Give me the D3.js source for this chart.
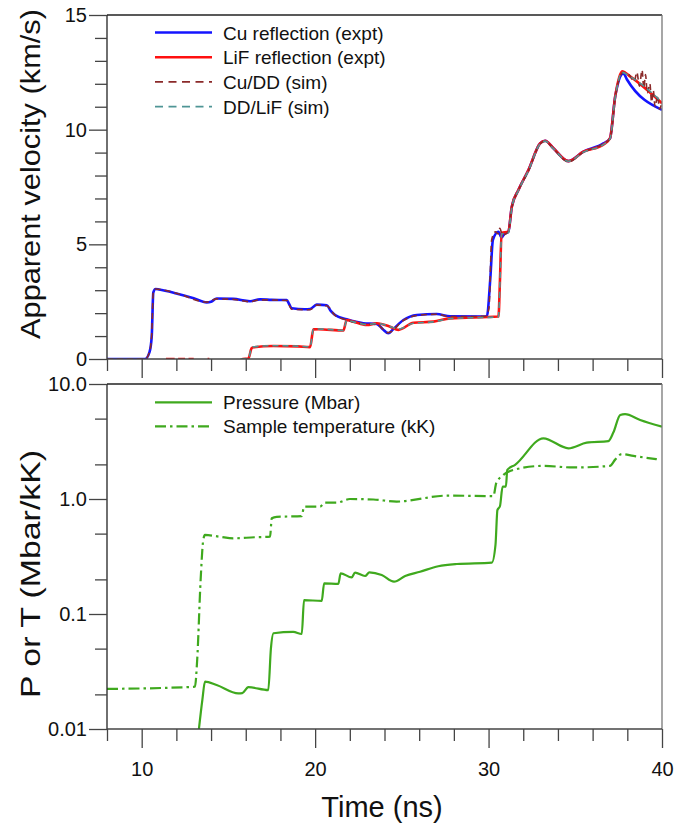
<!DOCTYPE html>
<html>
<head>
<meta charset="utf-8">
<script src="https://cdn.jsdelivr.net/npm/d3@7"></script>
<style>
  body { margin: 0; background: #fff; }
  svg { font-family: "Liberation Sans", Arial, sans-serif; }
  .line { fill: none; }
</style>
</head>
<body>
<div id="chart"></div>
<script>
// velocity traces (top panel), time in ns, velocity in km/s
var cuTime = [8, 10.2, 10.45, 10.58, 10.67, 10.8, 11.0, 12.0, 13.0, 13.75, 14.0, 14.33, 15.28, 16.25, 16.82, 17.5, 18.36, 18.5, 18.65, 19.4, 19.71, 20.09, 20.67, 20.9, 21.15, 21.82, 22.78, 23.55, 23.9, 24.22, 24.5, 25.09, 25.86, 27.01, 27.78, 29.9, 30.1, 30.25, 30.57, 30.75, 30.9, 31.14, 31.34, 31.72, 32.3, 32.97, 33.26, 33.74, 34.6, 35.47, 36.62, 37.0, 37.3, 37.78, 37.97, 40];
var cuVel = [0, 0, 0.3, 1.0, 2.9, 3.05, 3.03, 2.86, 2.65, 2.47, 2.5, 2.64, 2.62, 2.52, 2.6, 2.58, 2.57, 2.4, 2.21, 2.17, 2.18, 2.37, 2.34, 2.1, 1.92, 1.73, 1.56, 1.53, 1.3, 1.12, 1.3, 1.7, 1.92, 1.96, 1.86, 1.85, 3.5, 5.2, 5.55, 5.3, 5.45, 5.55, 6.64, 7.37, 8.24, 9.4, 9.52, 9.19, 8.63, 9.04, 9.4, 9.62, 11.44, 12.45, 12.2, 10.86];

// null marks a gap in the record
var lifTime = [11.4, 11.9, 11.95, 12.1, 12.5, 12.55, 12.7, 13.0, 13.05, 13.8, 13.9, 13.95, 15.8, 16.15, 16.34, 16.44, 17.59, 19.0, 19.71, 19.9, 20.19, 21.63, 21.82, 22.2, 22.98, 23.55, 24.32, 24.8, 25.67, 26.82, 27.78, 30.57, 30.66, 30.75, 31.14, 31.34, 31.72, 32.3, 32.97, 33.26, 33.74, 34.6, 35.47, 36.62, 37.0, 37.3, 37.7, 38.2, 40];
var lifVel = [0, 0, null, 0, 0, null, 0, 0, null, 0, 0, null, 0, 0.02, 0.47, 0.51, 0.57, 0.55, 0.52, 1.29, 1.3, 1.24, 1.7, 1.63, 1.48, 1.56, 1.41, 1.27, 1.58, 1.63, 1.77, 1.85, 3.5, 5.5, 5.55, 6.64, 7.37, 8.24, 9.4, 9.52, 9.19, 8.63, 9.04, 9.35, 9.62, 11.44, 12.55, 12.3, 11.15];

var simCuTime = [8, 10.2, 10.45, 10.58, 10.67, 10.8, 12.0, 13.75, 14.33, 15.28, 16.25, 16.82, 18.36, 18.65, 19.71, 20.09, 20.67, 21.15, 21.82, 22.78, 23.55, 24.22, 25.09, 25.86, 27.01, 27.78, 29.8, 30.02, 30.18, 30.4, 30.55, 30.65, 30.8, 31.14, 31.34, 31.72, 32.3, 32.97, 33.26, 33.74, 34.6, 35.47, 36.62, 37.0, 37.3, 37.78, 38.1, 38.4, 38.55, 38.7, 38.85, 38.95, 39.05, 39.15, 39.3, 39.4, 39.5, 39.6, 39.75, 39.85, 40];
var simCuVel = [0, 0, 0.3, 1.1, 2.95, 3.05, 2.87, 2.48, 2.62, 2.6, 2.5, 2.58, 2.55, 2.17, 2.15, 2.35, 2.32, 1.9, 1.7, 1.53, 1.5, 1.15, 1.68, 1.9, 1.95, 1.85, 1.86, 2.2, 5.2, 5.55, 5.45, 5.7, 5.4, 5.55, 6.6, 7.35, 8.2, 9.38, 9.5, 9.17, 8.6, 9.02, 9.38, 9.6, 11.4, 12.5, 12.4, 12.1, 12.5, 11.9, 12.6, 11.8, 12.4, 11.6, 12.0, 11.2, 11.7, 11.0, 11.5, 10.9, 11.2];

var simLifTime = [15.7, 16.15, 16.34, 16.44, 17.59, 19.0, 19.71, 19.9, 20.19, 21.63, 21.82, 22.2, 22.98, 23.55, 24.32, 24.8, 25.67, 26.82, 27.78, 30.57, 30.66, 30.75, 31.14, 31.34, 31.72, 32.3, 32.97, 33.26, 33.74, 34.6, 35.47, 36.62, 37.0, 37.3, 37.7, 38.2, 40];
var simLifVel = [0, 0.03, 0.49, 0.53, 0.58, 0.56, 0.53, 1.3, 1.31, 1.25, 1.68, 1.62, 1.5, 1.55, 1.42, 1.3, 1.56, 1.62, 1.76, 1.84, 3.4, 5.45, 5.5, 6.6, 7.35, 8.22, 9.38, 9.5, 9.17, 8.62, 9.02, 9.35, 9.6, 11.4, 12.5, 12.3, 11.2];

// pressure (Mbar) and sample temperature (kK), bottom panel
var presTime = [13.3, 13.5, 13.65, 14.32, 15.57, 15.8, 16.15, 17.3, 17.45, 17.6, 18.74, 19.23, 19.36, 20.38, 20.52, 21.34, 21.47, 22.11, 22.3, 22.88, 23.13, 23.84, 24.55, 25.19, 26.05, 27.1, 28.17, 30.19, 30.4, 30.51, 30.66, 30.81, 31.0, 31.08, 31.53, 33.16, 34.6, 35.66, 36.91, 37.2, 37.59, 37.87, 38.74, 40];
var presVal = [0.01, 0.018, 0.0258, 0.0241, 0.0204, 0.0205, 0.0231, 0.0218, 0.05, 0.068, 0.07, 0.067, 0.132, 0.13, 0.185, 0.183, 0.226, 0.208, 0.229, 0.214, 0.23, 0.218, 0.191, 0.214, 0.233, 0.26, 0.272, 0.28, 0.4, 0.8, 0.87, 1.28, 1.28, 1.79, 1.98, 3.37, 2.76, 3.09, 3.19, 3.8, 5.37, 5.47, 4.86, 4.25];

var tempTime = [8, 13.07, 13.2, 13.4, 13.55, 13.65, 14.5, 15.28, 16.5, 17.4, 17.5, 17.78, 19.23, 19.36, 20.28, 20.57, 21.25, 22.0, 23.36, 24.7, 27.6, 30.28, 30.44, 30.86, 31.43, 33.16, 34.89, 37.0, 37.3, 37.68, 38.35, 39.7];
var tempVal = [0.0223, 0.0233, 0.04, 0.2, 0.44, 0.487, 0.47, 0.455, 0.465, 0.47, 0.68, 0.7, 0.71, 0.857, 0.857, 0.93, 0.93, 1.0, 0.99, 0.95, 1.07, 1.06, 1.37, 1.62, 1.79, 1.94, 1.88, 1.94, 2.2, 2.46, 2.37, 2.22];

var topLegend = ["Cu reflection (expt)", "LiF reflection (expt)", "Cu/DD (sim)", "DD/LiF (sim)"];
var bottomLegend = ["Pressure (Mbar)", "Sample temperature (kK)"];
var velTicks = [0, 5, 10, 15];
var logTicks = [0.01, 0.1, 1, 10];
var logLabels = ["0.01", "0.1", "1.0", "10.0"];
var timeTicks = [10, 20, 30, 40];

var left = 107, right = 662;
var top1 = 15, bottom1 = 359;
var top2 = 384, bottom2 = 729;

var svg = d3.select("#chart").append("svg")
  .attr("width", 680)
  .attr("height", 831);

var x = d3.scaleLinear().domain([8, 40]).range([left, right]);
var yVel = d3.scaleLinear().domain([0, 15]).range([bottom1, top1]);
var yLog = d3.scaleLog().domain([0.01, 10]).range([bottom2, top2]);

function zip(t, v) {
  return t.map(function(d, i) { return [d, v[i]]; });
}

// clip each panel
var defs = svg.append("defs");
defs.append("clipPath").attr("id", "clip1").append("rect")
  .attr("x", left).attr("y", top1).attr("width", right - left).attr("height", bottom1 - top1);
defs.append("clipPath").attr("id", "clip2").append("rect")
  .attr("x", left).attr("y", top2).attr("width", right - left).attr("height", bottom2 - top2);

var lineVel = d3.line()
  .defined(function(d) { return d[1] != null; })
  .x(function(d) { return x(d[0]); })
  .y(function(d) { return yVel(d[1]); })
  .curve(d3.curveMonotoneX);

var lineLog = d3.line()
  .x(function(d) { return x(d[0]); })
  .y(function(d) { return yLog(d[1]); })
  .curve(d3.curveMonotoneX);

// ---- top panel ----
var g1 = svg.append("g").attr("clip-path", "url(#clip1)");

var topSeries = [
  {data: zip(cuTime, cuVel), color: "#1414ff", width: 2.6, dash: null},
  {data: zip(lifTime, lifVel), color: "#ff1010", width: 2.6, dash: null},
  {data: zip(simCuTime, simCuVel), color: "#8b2a2a", width: 1.6, dash: "6,4"},
  {data: zip(simLifTime, simLifVel), color: "#4f9595", width: 1.6, dash: "6,4"}
];

topSeries.forEach(function(s) {
  g1.append("path")
    .datum(s.data)
    .attr("class", "line")
    .attr("stroke", s.color)
    .attr("stroke-width", s.width)
    .attr("stroke-dasharray", s.dash)
    .attr("d", lineVel);
});

// frame
svg.append("line").attr("x1", left).attr("x2", right).attr("y1", top1).attr("y2", top1).attr("stroke", "#222").attr("stroke-width", 1.3);
svg.append("line").attr("x1", left).attr("x2", left).attr("y1", top1).attr("y2", bottom1).attr("stroke", "#222").attr("stroke-width", 1.3);
svg.append("line").attr("x1", right).attr("x2", right).attr("y1", top1).attr("y2", bottom1).attr("stroke", "#777").attr("stroke-width", 1.3);

// y axis, major ticks labelled and minor every 1 km/s
svg.append("g").attr("transform", "translate(" + left + ",0)")
  .call(d3.axisLeft(yVel).tickValues(velTicks).tickSize(18).tickPadding(2).tickFormat(d3.format("d")));
svg.append("g").attr("transform", "translate(" + left + ",0)")
  .call(d3.axisLeft(yVel).tickValues(d3.range(0, 16).filter(function(d) { return d % 5; })).tickSize(12).tickFormat(""));

// x axis of top panel, no labels
svg.append("g").attr("transform", "translate(0," + bottom1 + ")")
  .call(d3.axisBottom(x).tickValues(timeTicks).tickSize(19).tickFormat(""));
svg.append("g").attr("transform", "translate(0," + bottom1 + ")")
  .call(d3.axisBottom(x).tickValues(d3.range(8, 41, 2).filter(function(d) { return d % 10; })).tickSize(12).tickFormat(""));

svg.append("text")
  .attr("transform", "translate(40,174) rotate(-90)")
  .attr("text-anchor", "middle")
  .attr("textLength", 330)
  .attr("lengthAdjust", "spacingAndGlyphs")
  .style("font-size", "28px")
  .attr("fill", "#111")
  .text("Apparent velocity (km/s)");

// legend
topSeries.forEach(function(s, i) {
  var yy = 32.5 + i * 24.7;
  svg.append("line")
    .attr("x1", 155).attr("x2", 212).attr("y1", yy).attr("y2", yy)
    .attr("stroke", s.color)
    .attr("stroke-width", s.dash ? 1.6 : 2.6)
    .attr("stroke-dasharray", s.dash ? "8,5.5" : null);
  svg.append("text")
    .attr("x", 223).attr("y", yy + 7)
    .style("font-size", "19px")
    .attr("fill", "#111")
    .text(topLegend[i]);
});

// ---- bottom panel ----
var g2 = svg.append("g").attr("clip-path", "url(#clip2)");
var green = "#3fa91e";

g2.append("path")
  .datum(zip(presTime, presVal))
  .attr("class", "line")
  .attr("stroke", green)
  .attr("stroke-width", 2.2)
  .attr("d", lineLog);

g2.append("path")
  .datum(zip(tempTime, tempVal))
  .attr("class", "line")
  .attr("stroke", green)
  .attr("stroke-width", 2.2)
  .attr("stroke-dasharray", "11,4,2.5,4")
  .attr("d", lineLog);

svg.append("line").attr("x1", left).attr("x2", right).attr("y1", top2).attr("y2", top2).attr("stroke", "#222").attr("stroke-width", 1.3);
svg.append("line").attr("x1", left).attr("x2", left).attr("y1", top2).attr("y2", bottom2).attr("stroke", "#222").attr("stroke-width", 1.3);
svg.append("line").attr("x1", right).attr("x2", right).attr("y1", top2).attr("y2", bottom2).attr("stroke", "#777").attr("stroke-width", 1.3);

svg.append("g").attr("transform", "translate(" + left + ",0)")
  .call(d3.axisLeft(yLog).tickValues(logTicks).tickSize(18).tickPadding(2)
    .tickFormat(function(d, i) { return logLabels[i]; }));
svg.append("g").attr("transform", "translate(" + left + ",0)")
  .call(d3.axisLeft(yLog).tickValues([0.02, 0.05, 0.2, 0.5, 2, 5]).tickSize(12).tickFormat(""));

svg.append("g").attr("transform", "translate(0," + bottom2 + ")")
  .call(d3.axisBottom(x).tickValues(timeTicks).tickSize(19).tickPadding(14).tickFormat(d3.format("d")));
svg.append("g").attr("transform", "translate(0," + bottom2 + ")")
  .call(d3.axisBottom(x).tickValues(d3.range(8, 41, 2).filter(function(d) { return d % 10; })).tickSize(12).tickFormat(""));

svg.append("text")
  .attr("transform", "translate(40,574) rotate(-90)")
  .attr("text-anchor", "middle")
  .attr("textLength", 248)
  .attr("lengthAdjust", "spacingAndGlyphs")
  .style("font-size", "28px")
  .attr("fill", "#111")
  .text("P or T (Mbar/kK)");

svg.append("text")
  .attr("x", 382).attr("y", 817)
  .attr("text-anchor", "middle")
  .style("font-size", "29px")
  .attr("fill", "#111")
  .text("Time (ns)");

[null, "11,4,2.5,4"].forEach(function(dash, i) {
  var yy = 402.3 + i * 24;
  svg.append("line")
    .attr("x1", 155).attr("x2", 212).attr("y1", yy).attr("y2", yy)
    .attr("stroke", green)
    .attr("stroke-width", 2.2)
    .attr("stroke-dasharray", dash);
  svg.append("text")
    .attr("x", 223).attr("y", yy + 7)
    .style("font-size", "19px")
    .attr("fill", "#111")
    .text(bottomLegend[i]);
});

// axis styling
svg.selectAll(".domain").remove();
svg.selectAll(".tick line").attr("stroke", "#444").attr("stroke-width", 1.3);
svg.selectAll(".tick text").style("font-size", "20px").attr("fill", "#111").style("font-family", "Liberation Sans, Arial, sans-serif");
svg.append("line").attr("x1", left).attr("x2", right).attr("y1", bottom1).attr("y2", bottom1).attr("stroke", "#444").attr("stroke-width", 1.3);
svg.append("line").attr("x1", left).attr("x2", right).attr("y1", bottom2).attr("y2", bottom2).attr("stroke", "#444").attr("stroke-width", 1.3);
</script>
</body>
</html>
